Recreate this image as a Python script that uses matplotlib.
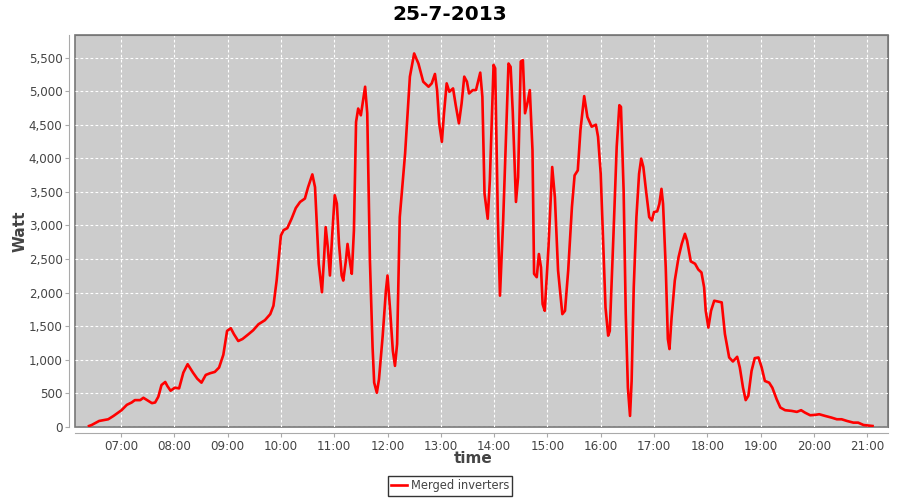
import matplotlib
matplotlib.use("Agg")
import matplotlib.pyplot as plt
from matplotlib.ticker import FuncFormatter, MultipleLocator


# time of day in hours, power in watt
hours = [
    6.40, 6.45, 6.59, 6.76, 6.86, 6.95, 7.01, 7.11, 7.20, 7.26, 7.36, 7.42, 7.49,
    7.58, 7.64, 7.70, 7.76, 7.83, 7.87, 7.93, 8.01, 8.09, 8.17, 8.25, 8.35, 8.43,
    8.51, 8.59, 8.67, 8.76, 8.84, 8.92, 8.99, 9.06, 9.12, 9.20, 9.28, 9.39, 9.48,
    9.58, 9.70, 9.80, 9.86, 9.92, 9.97, 10.00, 10.05, 10.12, 10.20, 10.28, 10.36,
    10.45, 10.51, 10.59, 10.64, 10.67, 10.71, 10.77, 10.81, 10.84, 10.88, 10.92,
    10.96, 11.01, 11.05, 11.09, 11.14, 11.17, 11.22, 11.25, 11.30, 11.33, 11.37,
    11.41, 11.45, 11.50, 11.58, 11.62, 11.67, 11.72, 11.75, 11.80, 11.84, 11.91,
    11.97, 12.00, 12.05, 12.10, 12.14, 12.18, 12.23, 12.33, 12.42, 12.50, 12.58,
    12.67, 12.77, 12.83, 12.89, 12.93, 12.97, 13.02, 13.06, 13.11, 13.16, 13.23,
    13.28, 13.34, 13.39, 13.44, 13.49, 13.53, 13.60, 13.66, 13.74, 13.78, 13.82,
    13.88, 13.92, 13.99, 14.02, 14.07, 14.11, 14.17, 14.27, 14.31, 14.35, 14.41,
    14.45, 14.50, 14.54, 14.58, 14.63, 14.67, 14.72, 14.75, 14.80, 14.84, 14.88,
    14.91, 14.95, 15.02, 15.09, 15.14, 15.20, 15.28, 15.33, 15.39, 15.46, 15.51,
    15.57, 15.62, 15.69, 15.75, 15.83, 15.91, 15.95, 16.00, 16.05, 16.09, 16.14,
    16.17, 16.24, 16.30, 16.35, 16.38, 16.43, 16.47, 16.51, 16.55, 16.58, 16.62,
    16.67, 16.72, 16.76, 16.80, 16.85, 16.91, 16.96, 17.00, 17.06, 17.10, 17.14,
    17.17, 17.22, 17.26, 17.29, 17.33, 17.39, 17.46, 17.52, 17.58, 17.62, 17.69,
    17.77, 17.83, 17.89, 17.94, 17.97, 18.02, 18.07, 18.13, 18.19, 18.27, 18.33,
    18.41, 18.48, 18.56, 18.61, 18.67, 18.72, 18.77, 18.83, 18.89, 18.96, 19.02,
    19.08, 19.16, 19.22, 19.30, 19.37, 19.46, 19.58, 19.68, 19.76, 19.83, 19.93,
    20.02, 20.10, 20.21, 20.33, 20.43, 20.52, 20.62, 20.74, 20.83, 20.93, 21.10,
]
watt = [
    15, 30, 90, 115, 165, 215, 250, 330, 365, 400, 400, 435, 400,
    355, 365, 450, 625, 670, 610, 540, 585, 575, 810, 935, 810, 720,
    660, 775, 800, 820, 885, 1075, 1430, 1470, 1380, 1280, 1310, 1380, 1440,
    1530, 1590, 1680, 1805, 2180, 2600, 2850, 2930, 2960, 3100, 3260, 3350,
    3400, 3570, 3760, 3570, 3075, 2430, 2005, 2525, 2975, 2675, 2255,
    2825, 3450, 3325, 2725, 2255, 2180, 2480, 2725, 2430, 2280, 2925,
    4540, 4740, 4640, 5065, 4670, 2480, 1185, 660, 510, 710, 1360,
    2030, 2255, 1730, 1135, 910, 1235, 3125, 4070, 5215, 5560, 5410,
    5140, 5065, 5115, 5255, 5015, 4520, 4245, 4670, 5115, 4990, 5040,
    4790, 4520, 4815, 5215, 5140, 4965, 5015, 5015, 5275, 4915, 3475,
    3100, 3670, 5390, 5340, 3125, 1955, 3075, 5410, 5360, 4690, 3350,
    3720, 5440, 5460, 4670, 4840, 5015, 4120, 2280, 2230, 2575, 2375,
    1830, 1730, 2675, 3870, 3420, 2330, 1680, 1730, 2330, 3275, 3745,
    3820, 4420, 4925, 4615, 4470, 4500, 4320, 3770, 2675, 1780, 1360,
    1430, 2875, 4170, 4790, 4765, 3520, 1680, 585, 165, 685, 2080,
    3125, 3770, 3995, 3870, 3520, 3125, 3075, 3200, 3210, 3320, 3545,
    3320, 2375, 1310, 1160, 1630, 2180, 2525, 2725, 2875, 2775, 2465,
    2430, 2345, 2300, 2080, 1730, 1480, 1730, 1880, 1870, 1855, 1385,
    1035, 975, 1045, 885, 585, 400, 465, 835, 1025, 1035, 885,
    685, 660, 585, 415, 290, 250, 240, 225, 250, 215, 175,
    180, 190, 165, 140, 115, 115, 90, 65, 65, 30, 15,
]
hour_ticks = list(range(7, 22))

TEXT_GREY = "#444444"

fig = plt.figure(figsize=(9, 5), dpi=100)
ax = fig.add_axes([75 / 900, 1 - 427 / 500, 813 / 900, 392 / 500])

ax.set_facecolor("#cccccc")
ax.patch.set_edgecolor("#777777")
ax.patch.set_linewidth(1.2)

ax.plot(hours, watt, color="#ff0000", lw=1.9, solid_joinstyle="round",
        label="Merged inverters")

ax.set_xlim(6.137, 21.39)
ax.set_ylim(0, 5835)
ax.set_xticks(hour_ticks)
ax.xaxis.set_major_formatter(FuncFormatter(lambda v, _: "%02d:00" % int(round(v))))
ax.yaxis.set_major_locator(MultipleLocator(500))
ax.yaxis.set_major_formatter(FuncFormatter(lambda v, _: "{:,.0f}".format(v)))

ax.grid(True, color="white", linestyle=(0, (2.5, 2)), lw=0.8)
ax.set_axisbelow(True)

for side in ("top", "right"):
    ax.spines[side].set_color("#777777")
for side in ("left", "bottom"):
    ax.spines[side].set_position(("outward", 4))
    ax.spines[side].set_color("#aaaaaa")

ax.tick_params(axis="both", colors="#aaaaaa", labelcolor=TEXT_GREY,
               labelsize=8.6, length=3, width=0.8, pad=2)

fig.text(0.5, 1 - 14 / 500, "25-7-2013", fontsize=14.5, fontweight="bold",
         ha="center", va="center")
ax.set_xlabel("time", fontsize=11, fontweight="bold", color=TEXT_GREY)
ax.set_ylabel("Watt", fontsize=11, fontweight="bold", color=TEXT_GREY)
ax.xaxis.set_label_coords((473 - 75) / 813, (427 - 451) / 392)
ax.yaxis.set_label_coords((28 - 75) / 813, 0.5)

leg = fig.legend(loc="upper center", bbox_to_anchor=(0.5, 1 - 476 / 500), frameon=True,
                 fancybox=False, fontsize=8.3, handlelength=1.4, handletextpad=0.3,
                 borderpad=0.3, borderaxespad=0)
leg.get_frame().set_edgecolor("black")
leg.get_frame().set_linewidth(1)
for t in leg.get_texts():
    t.set_color(TEXT_GREY)

fig.savefig("out.png", dpi=100)
